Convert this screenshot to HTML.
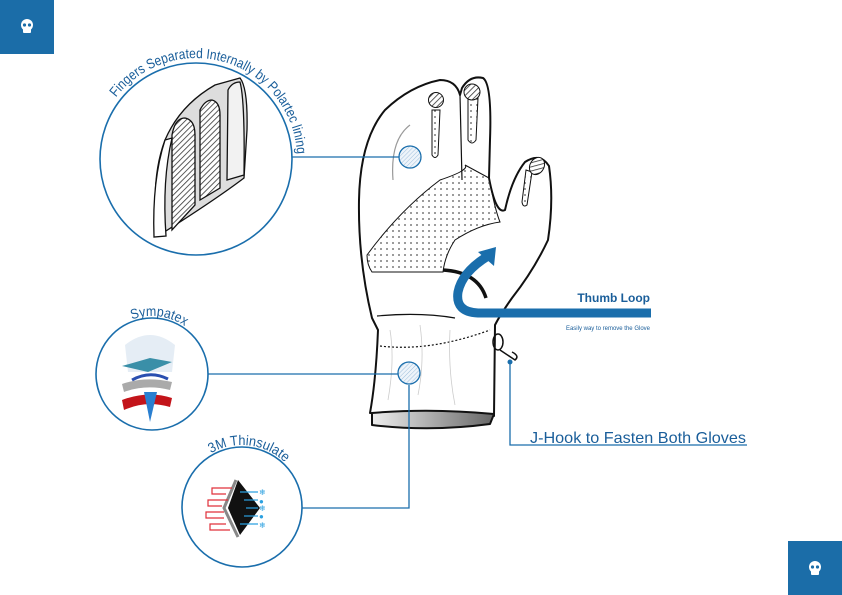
<!DOCTYPE html>
<html><head><meta charset="utf-8"><style>
html,body{margin:0;padding:0;background:#fff;}
svg{display:block;font-family:"Liberation Sans",sans-serif;}
</style></head><body>
<svg width="842" height="595" viewBox="0 0 842 595" xmlns="http://www.w3.org/2000/svg">
<defs>
<pattern id="dots" width="6" height="6" patternUnits="userSpaceOnUse"><circle cx="3" cy="3" r="0.9" fill="#555"/></pattern>
<pattern id="hatch" width="4" height="4" patternUnits="userSpaceOnUse" patternTransform="rotate(45)"><rect width="4" height="4" fill="#fff"/><line x1="0" y1="0" x2="0" y2="4" stroke="#333" stroke-width="1.6"/></pattern>
<pattern id="bhatch" width="3" height="3" patternUnits="userSpaceOnUse" patternTransform="rotate(45)"><rect width="3" height="3" fill="#eef4fa"/><line x1="0" y1="0" x2="0" y2="3" stroke="#9fbfdc" stroke-width="1"/></pattern>
<linearGradient id="cuffg" x1="0" x2="1"><stop offset="0" stop-color="#eee"/><stop offset="1" stop-color="#666"/></linearGradient>
<path id="arc1" d="M 116 97.5 A 101 101 0 0 1 297 155"/>
<path id="arc2" d="M 132 319.5 A 58 58 0 0 1 183.6 325.4"/>
<path id="arc3" d="M 211 453.3 A 62 62 0 0 1 285.8 463.2"/>
</defs>

<rect x="0" y="0" width="54" height="54" fill="#1b6da8"/>
<g fill="#fff"><circle cx="27" cy="25" r="6"/><rect x="23" y="28" width="8" height="5" rx="1"/></g>
<g fill="#1b6da8"><circle cx="24.5" cy="25" r="1.6"/><circle cx="29.5" cy="25" r="1.6"/></g>
<rect x="788" y="541" width="54" height="54" fill="#1b6da8"/>
<g fill="#fff"><circle cx="815" cy="567" r="6"/><rect x="811" y="570" width="8" height="5" rx="1"/></g>
<g fill="#1b6da8"><circle cx="812.5" cy="567" r="1.6"/><circle cx="817.5" cy="567" r="1.6"/></g>

<!-- Glove -->
<g stroke="#111" stroke-width="2" stroke-linejoin="round" fill="#fff">
<path d="M372 318 Q358 260 359 200 Q360 140 385 110 Q410 86 440 80 Q456 80 460 95 L462 88 Q470 75 483 78 Q492 84 490 140 L489 178 Q496 215 505 210 Q512 178 525 162 Q540 152 549 166 Q554 200 548 240 Q534 270 512 298 Q500 315 495 325 L494 416 L370 413 Q376 380 378 330 Z"/>
<path d="M372 413 Q430 408 494 414 L490 424 Q430 432 372 425 Z" fill="url(#cuffg)"/>
</g>
<g fill="none" stroke="#111" stroke-width="1.2">
<path d="M460 95 L462 180"/>
<path d="M377 316 Q420 312 455 318"/>
<path d="M380 346 Q430 352 490 330" stroke-dasharray="2 2"/>
<path d="M410 125 Q390 140 393 180" stroke="#999"/>
<path d="M390 330 Q395 360 388 400 M420 325 Q425 360 418 395 M450 330 Q448 370 455 405" stroke="#ccc" stroke-width="0.8"/>
</g>
<path d="M367 255 Q400 210 440 180 Q470 170 465 165 L489 178 Q495 210 500 222 Q478 225 455 240 Q445 255 443 272 L372 272 Q367 265 367 255 Z" fill="url(#dots)" stroke="#111" stroke-width="1"/>
<g stroke="#111" stroke-width="1">
<path d="M432 110 L440 110 L438 155 Q435 160 432 155 Z" fill="url(#dots)"/>
<path d="M468 98 L478 98 L476 140 Q472 146 468 140 Z" fill="url(#dots)"/>
<path d="M526 170 L532 172 L527 205 Q523 208 522 202 Z" fill="url(#dots)"/>
<circle cx="436" cy="100" r="7.5" fill="url(#hatch)"/>
<circle cx="472" cy="92" r="8" fill="url(#hatch)"/>
<ellipse cx="537" cy="166" rx="7" ry="9" fill="url(#hatch)" transform="rotate(30 537 166)"/>
</g>
<path d="M443 270 Q478 272 486 298" fill="none" stroke="#111" stroke-width="3.5"/>
<path d="M651 313 L478 313 Q455 312 458 292 Q462 272 488 256" fill="none" stroke="#1a6eac" stroke-width="9"/>
<path d="M496 247 L478 252 L494 266 Z" fill="#1a6eac"/>
<text x="650" y="302" text-anchor="end" font-size="12" font-weight="bold" fill="#1a5e9a">Thumb Loop</text>
<text x="650" y="330" text-anchor="end" font-size="6" fill="#1a5e9a">Easily way to remove the Glove</text>
<g fill="none" stroke="#111" stroke-width="1.5"><ellipse cx="498" cy="342" rx="5" ry="8"/><path d="M500 350 L515 360 Q520 356 512 352"/></g>
<circle cx="510" cy="362" r="2.5" fill="#1a6eac"/>
<path d="M510 364 L510 445 L747 445" fill="none" stroke="#1a6eac" stroke-width="1.3"/>
<text x="530" y="443" font-size="16" fill="#1a5e9a" textLength="216" lengthAdjust="spacingAndGlyphs">J-Hook to Fasten Both Gloves</text>

<g stroke="#1a6eac" stroke-width="1.3" fill="none">
<path d="M292 157 L399 157"/>
<path d="M208 374 L398 374"/>
<path d="M302 508 L409 508 L409 385"/>
</g>
<g stroke="#1a6eac" stroke-width="1.3" fill="url(#bhatch)">
<circle cx="410" cy="157" r="11"/>
<circle cx="409" cy="373" r="11"/>
</g>

<!-- circle 1 -->
<circle cx="196" cy="159" r="96" fill="#fff" stroke="#1a6eac" stroke-width="1.6"/>
<g stroke="#111" stroke-width="1.3">
<path d="M158 236 Q150 180 165 140 Q180 105 215 85 L240 78 Q248 88 247 130 L244 178 Q215 200 158 236 Z" fill="#ddd"/>
<path d="M172 230 L172 135 Q175 118 185 118 Q195 120 195 135 L195 205 Z" fill="url(#hatch)"/>
<path d="M200 200 L200 110 Q205 100 212 100 Q220 102 220 115 L220 188 Z" fill="url(#hatch)"/>
<path d="M227 180 L228 90 Q232 82 240 82 Q245 100 244 175 Z" fill="#f2f2f2"/>
<path d="M154 237 Q152 180 165 140 L172 138 Q162 180 166 236 Z" fill="#fff"/>
</g>
<text font-size="14" fill="#1a5e9a"><textPath href="#arc1" textLength="246" lengthAdjust="spacingAndGlyphs">Fingers Separated Internally by Polartec lining</textPath></text>

<!-- circle 2 -->
<circle cx="152" cy="374" r="56" fill="#fff" stroke="#1a6eac" stroke-width="1.6"/>
<g>
<path d="M125 345 Q150 325 175 345 L172 372 L128 372 Z" fill="#dfe9f3" opacity="0.8"/>
<path d="M122 366 L150 358 L172 362 L148 372 Z" fill="#3a8fa8"/>
<path d="M122 384 Q145 376 172 382 L170 390 Q146 384 124 392 Z" fill="#aaa"/>
<path d="M132 380 Q150 370 168 379" stroke="#2a4fb0" stroke-width="3" fill="none"/>
<path d="M122 400 Q148 390 172 398 L170 407 Q146 400 124 410 Z" fill="#c3141a"/>
<path d="M144 392 L150 422 L157 392 Z" fill="#2a7fd0"/>
</g>
<text font-size="14" fill="#1a5e9a"><textPath href="#arc2" textLength="55" lengthAdjust="spacingAndGlyphs">Sympatex</textPath></text>

<!-- circle 3 -->
<circle cx="242" cy="507" r="60" fill="#fff" stroke="#1a6eac" stroke-width="1.6"/>
<path d="M238 480 L260 508 L240 535 L228 508 Z" fill="#111"/>
<path d="M236 480 L224 508 L238 537" fill="none" stroke="#888" stroke-width="3"/>
<g stroke="#e0303a" stroke-width="1.2" fill="none">
<path d="M232 488 L212 488 L212 494 L226 494"/><path d="M228 500 L208 500 L208 506 L222 506"/><path d="M224 512 L206 512 L206 518 L224 518"/><path d="M226 524 L210 524 L210 530 L230 530"/>
</g>
<g stroke="#2aa0e0" stroke-width="1.2"><path d="M240 492 L258 492"/><path d="M244 500 L258 500"/><path d="M246 508 L258 508"/><path d="M244 516 L258 516"/><path d="M240 524 L258 524"/></g>
<g fill="#2aa0e0" font-size="8"><text x="259" y="495">❄</text><text x="259" y="504">●</text><text x="259" y="511">❄</text><text x="259" y="519">●</text><text x="259" y="528">❄</text></g>
<text font-size="14" fill="#1a5e9a"><textPath href="#arc3" textLength="80" lengthAdjust="spacingAndGlyphs">3M Thinsulate</textPath></text>
</svg>
</body></html>
